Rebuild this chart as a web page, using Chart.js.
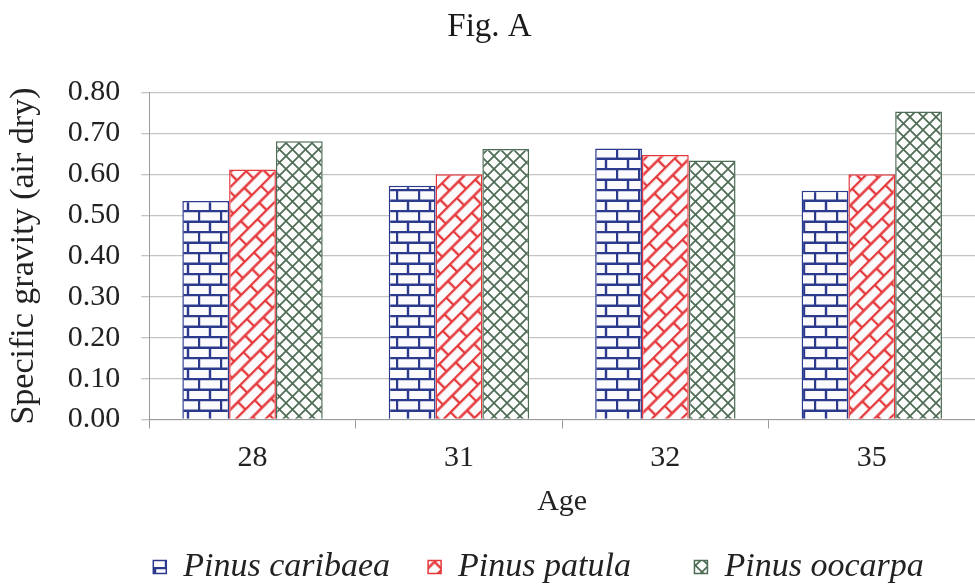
<!DOCTYPE html>
<html>
<head>
<meta charset="utf-8">
<script src="https://cdn.jsdelivr.net/npm/chart.js@4"></script>
<style>
  html, body { margin: 0; padding: 0; background: #fff; }
  #wrap { width: 975px; height: 587px; }
</style>
</head>
<body>
<div id="wrap"><canvas id="sgChart" width="975" height="587"></canvas></div>
<script>
// data
const ages = ['28', '31', '32', '35'];
const caribaea = [0.535, 0.572, 0.663, 0.560];
const patula = [0.612, 0.600, 0.647, 0.600];
const oocarpa = [0.681, 0.662, 0.634, 0.754];
const speciesNames = ['Pinus caribaea', 'Pinus patula', 'Pinus oocarpa'];
// trailing spaces so the legend columns sit apart like the original
const legendGaps = ['    ', '       ', ''];

const serif = '"Liberation Serif", "Times New Roman", serif';

// brick pattern, optionally turned
function brickPattern(color, w, h, angle) {
  const c = document.createElement('canvas');
  c.width = w; c.height = h * 2;
  const g = c.getContext('2d');
  g.fillStyle = '#fbfbfd';
  g.fillRect(0, 0, c.width, c.height);
  g.strokeStyle = color;
  g.lineWidth = 2.4;
  g.beginPath();
  g.moveTo(0, 1); g.lineTo(w, 1);
  g.moveTo(0, h + 1); g.lineTo(w, h + 1);
  g.moveTo(1, 0); g.lineTo(1, h);
  g.moveTo(w / 2 + 1, h); g.lineTo(w / 2 + 1, 2 * h);
  g.stroke();
  const p = g.createPattern(c, 'repeat');
  if (angle) p.setTransform(new DOMMatrix().rotateSelf(angle));
  return p;
}

function crossPattern(color, s) {
  const c = document.createElement('canvas');
  c.width = s; c.height = s;
  const g = c.getContext('2d');
  g.fillStyle = '#fbfcfb';
  g.fillRect(0, 0, s, s);
  g.strokeStyle = color;
  g.lineWidth = 1.7;
  g.beginPath();
  g.moveTo(0, 0); g.lineTo(s, s);
  g.moveTo(0, s); g.lineTo(s, 0);
  g.stroke();
  return g.createPattern(c, 'repeat');
}

const blue = '#2c3a8e';
const red = '#e5383b';
const green = '#4e6c55';

const data = {
  labels: ages,
  datasets: [
    { label: speciesNames[0], data: caribaea, backgroundColor: brickPattern(blue, 22, 10.7, 0), borderColor: blue, borderWidth: 1.5 },
    { label: speciesNames[1], data: patula, backgroundColor: brickPattern(red, 26, 10.5, -45), borderColor: red, borderWidth: 1.5 },
    { label: speciesNames[2], data: oocarpa, backgroundColor: crossPattern(green, 13), borderColor: green, borderWidth: 1.5 }
  ]
};

const chart = new Chart(document.getElementById('sgChart'), {
  type: 'bar',
  data: data,
  options: {
    responsive: false,
    animation: false,
    layout: { padding: { left: 4, right: 0, top: 8, bottom: -7 } },
    datasets: { bar: { categoryPercentage: 0.68, barPercentage: 1.0 } },
    plugins: {
      title: {
        display: true,
        text: 'Fig. A',
        color: '#1a1a1a',
        font: { family: serif, size: 33, weight: 'normal' },
        padding: { top: 0, bottom: 45 }
      },
      legend: {
        position: 'bottom',
        fullSize: false,
        align: 'start',
        labels: {
          color: '#222',
          boxWidth: 13,
          boxHeight: 13,
          padding: 4,
          font: { family: serif, size: 34, style: 'italic' },
          generateLabels: function (c) {
            const items = Chart.defaults.plugins.legend.labels.generateLabels(c);
            items.forEach((it, i) => { it.text = it.text + legendGaps[i]; });
            return items;
          }
        }
      },
      tooltip: { enabled: false }
    },
    scales: {
      x: {
        grid: { display: true, drawOnChartArea: false, tickLength: 9, color: '#9a9a9a' },
        border: { color: '#9a9a9a' },
        ticks: { color: '#222', padding: 21, font: { family: serif, size: 30, lineHeight: 0.55 } },
        title: { display: true, text: 'Age', color: '#222', font: { family: serif, size: 30, lineHeight: 1.0 }, padding: { top: 0, bottom: 29 } }
      },
      y: {
        min: 0,
        max: 0.8,
        ticks: {
          stepSize: 0.1,
          autoSkip: false,
          color: '#222',
          padding: 21,
          font: { family: serif, size: 30 },
          callback: v => v.toFixed(2)
        },
        grid: { color: '#c4c4c4', tickLength: 8, lineWidth: 1.3 },
        border: { color: '#9a9a9a' },
        title: { display: true, text: 'Specific gravity (air dry)', color: '#222', font: { family: serif, size: 34 }, padding: { top: 0, bottom: 2 } }
      }
    }
  }
});
</script>
</body>
</html>
